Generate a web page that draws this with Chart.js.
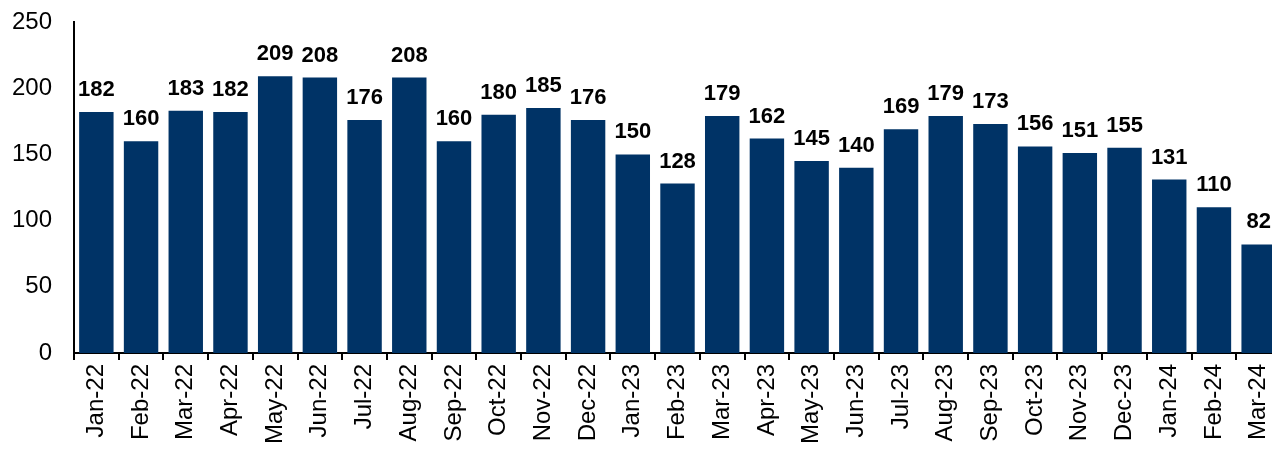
<!DOCTYPE html>
<html>
<head>
<meta charset="utf-8">
<script src="https://cdn.jsdelivr.net/npm/chart.js@4"></script>
<style>
  html, body { margin: 0; padding: 0; overflow: hidden; background: #fff; }
  #wrap { width: 1281px; height: 451px; }
</style>
</head>
<body>
<div id="wrap"><canvas id="chart"></canvas></div>
<script>
var months = ["Jan-22","Feb-22","Mar-22","Apr-22","May-22","Jun-22","Jul-22","Aug-22","Sep-22","Oct-22","Nov-22","Dec-22",
              "Jan-23","Feb-23","Mar-23","Apr-23","May-23","Jun-23","Jul-23","Aug-23","Sep-23","Oct-23","Nov-23","Dec-23",
              "Jan-24","Feb-24","Mar-24"];
var values = [182,160,183,182,209,208,176,208,160,180,185,176,150,128,179,162,145,140,169,179,173,156,151,155,131,110,82];
var yTicks = [0,50,100,150,200,250];

Chart.defaults.font.family = "'Liberation Sans', Arial, sans-serif";
Chart.defaults.color = '#000';

// value labels above each bar
var barLabels = {
  id: 'barLabels',
  afterDatasetsDraw: function(chart) {
    var ctx = chart.ctx;
    var meta = chart.getDatasetMeta(0);
    ctx.save();
    ctx.font = "bold 22px 'Liberation Sans', Arial, sans-serif";
    ctx.fillStyle = '#000';
    ctx.textAlign = 'center';
    ctx.textBaseline = 'alphabetic';
    meta.data.forEach(function(bar, i) {
      ctx.fillText(values[i], bar.x, bar.y - 16);
    });
    ctx.restore();
  }
};

var ctx = document.getElementById('chart').getContext('2d');
var chart = new Chart(ctx, {
  type: 'bar',
  data: {
    labels: months,
    datasets: [{
      data: values,
      backgroundColor: '#003366',
      barPercentage: 0.77,
      categoryPercentage: 1.0
    }]
  },
  options: {
    responsive: true,
    maintainAspectRatio: false,
    animation: false,
    layout: { padding: { top: 22, right: 0, bottom: 0, left: 0 } },
    plugins: { legend: { display: false }, tooltip: { enabled: false } },
    scales: {
      x: {
        grid: { display: true, offset: true, drawOnChartArea: false, drawTicks: true, tickLength: 7, color: '#000', lineWidth: 2 },
        border: { display: true, color: '#000', width: 2 },
        ticks: { font: { size: 24 }, maxRotation: 90, minRotation: 90, padding: 4, autoSkip: false },
        afterFit: function(scale) {
          scale.height = 98;
          scale.paddingLeft = 0;
          scale.paddingRight = 0;
        }
      },
      y: {
        min: 0, max: 250,
        afterBuildTicks: function(scale) { scale.ticks = yTicks.map(function(v) { return { value: v }; }); },
        grid: { display: false, drawTicks: false },
        border: { display: true, color: '#000', width: 2 },
        ticks: { font: { size: 24 }, padding: 22 },
        afterFit: function(scale) {
          scale.width = 74;
          scale.paddingTop = 0;
          scale.paddingBottom = 0;
        }
      }
    }
  },
  plugins: [barLabels]
});
</script>
</body>
</html>
